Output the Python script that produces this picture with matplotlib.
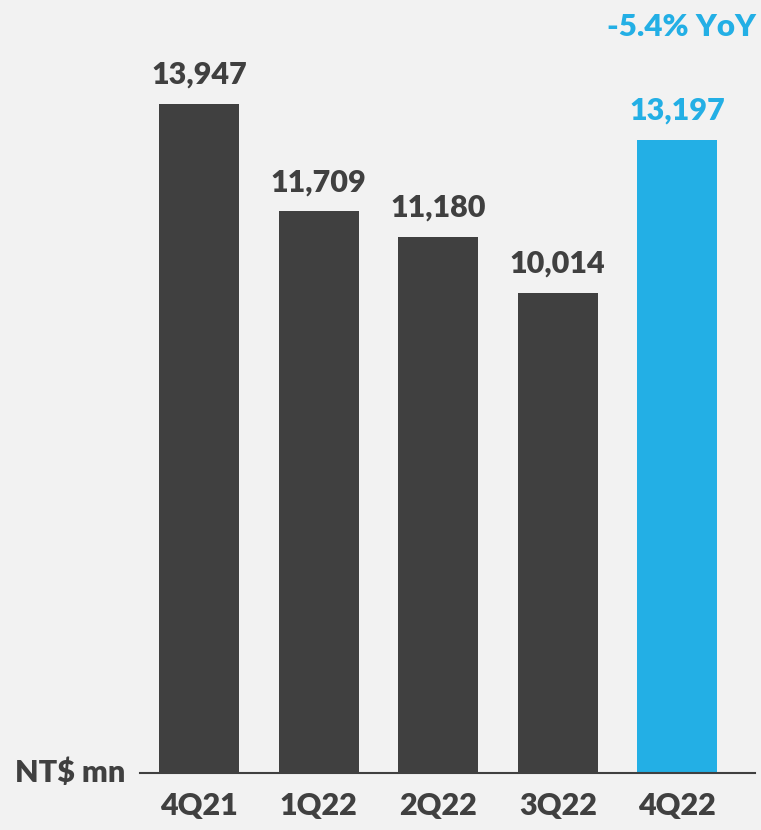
import matplotlib
matplotlib.use("Agg")
import matplotlib.pyplot as plt

categories = ["4Q21", "1Q22", "2Q22", "3Q22", "4Q22"]
values = [13947, 11709, 11180, 10014, 13197]
value_labels = ["13,947", "11,709", "11,180", "10,014", "13,197"]
yoy_text = "-5.4% YoY"
unit_text = "NT$ mn"

dark = "#404040"
blue = "#23AFE5"
bg = "#F2F2F2"
colors = [dark, dark, dark, dark, blue]

plt.rcParams['font.family'] = ['Lato', 'DejaVu Sans']
W = "heavy"

fig = plt.figure(figsize=(7.61, 8.30), dpi=100, facecolor=bg)
ax = fig.add_axes([140/761, 1 - 773/830, 615/761, 773/830])
ax.set_facecolor(bg)

x = list(range(len(categories)))
ax.bar(x, values, width=0.67, color=colors, zorder=2)
ax.set_xlim(-0.494, 4.65)
ax.set_ylim(0, 773/0.04797)

for xi, v, lab, c in zip(x, values, value_labels, colors):
    ax.annotate(lab, (xi, v), xytext=(0, 29*0.72), textcoords="offset points",
                ha="center", va="center", fontsize=22, fontweight=W, color=c)

ax.annotate(yoy_text, (4, values[4]), xytext=(3, (140-27)*0.72), textcoords="offset points",
            ha="center", va="center", fontsize=22.5, fontweight=W, color=blue)

for s in ["top", "right", "left"]:
    ax.spines[s].set_visible(False)
ax.spines["bottom"].set_color(dark)
ax.spines["bottom"].set_linewidth(1.5)
ax.set_yticks([])
ax.set_xticks(x)
ax.set_xticklabels(categories, fontsize=22, fontweight=W, color=dark)
ax.tick_params(axis="x", length=0, pad=14)

fig.text(125/761, 1 - 773/830, unit_text, ha="right", va="center",
         fontsize=22, fontweight=W, color=dark)

fig.savefig("out.png", dpi=100, facecolor=bg)
